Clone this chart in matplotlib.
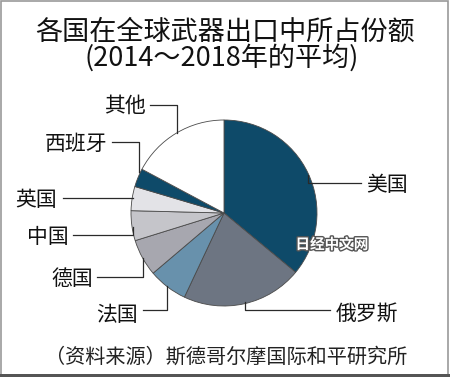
import matplotlib.pyplot as plt
import matplotlib.patheffects as pe
from matplotlib.patches import Rectangle

plt.rcParams['font.family'] = ['Noto Sans CJK SC', 'DejaVu Sans']

W, H = 450, 377

countries = ['美国', '俄罗斯', '法国', '德国', '中国', '英国', '西班牙', '其他']
shares = [36, 21, 6.8, 6.4, 5.2, 4.2, 3.2, 17.2]
colors = ['#0e4a69', '#6d7582', '#6891ac', '#a7a7af', '#c5c5ca', '#e3e3e7', '#0e4a69', '#ffffff']

# label positions and elbow leader lines, in pixels from top-left
label_xy = {
    '美国': (366, 185, 'left'),
    '俄罗斯': (336, 314, 'left'),
    '法国': (138, 315, 'right'),
    '德国': (93, 279, 'right'),
    '中国': (69, 237, 'right'),
    '英国': (57, 200, 'right'),
    '西班牙': (107, 144, 'right'),
    '其他': (146, 106, 'right'),
}
leaders = {
    '美国': [(308, 175), (308, 183), (361, 183)],
    '俄罗斯': [(245, 302), (245, 310), (330, 310)],
    '法国': [(167, 286), (167, 310), (143, 310)],
    '德国': [(143, 258), (143, 277), (97, 277)],
    '中国': [(133, 227), (133, 235), (73, 235)],
    '英国': [(133, 198), (63, 198)],
    '西班牙': [(139, 172), (139, 142), (112, 142)],
    '其他': [(177, 133), (177, 105), (150, 105)],
}


def fy(y):
    return H - y


fig = plt.figure(figsize=(4.5, 3.77), dpi=100)
ax = fig.add_axes([0, 0, 1, 1])

ax.pie(shares, colors=colors, startangle=90, counterclock=False,
       center=(224, fy(213)), radius=93,
       wedgeprops={'edgecolor': '#4a4a4a', 'linewidth': 0.6})

ax.set_xlim(0, W)
ax.set_ylim(0, H)
ax.set_aspect('equal')
ax.axis('off')

for c in countries:
    pts = leaders[c]
    ax.plot([p[0] for p in pts], [fy(p[1]) for p in pts], color='#2a2a2a', lw=0.9)
    x, y, ha = label_xy[c]
    ax.text(x, fy(y), c, ha=ha, va='center', fontsize=15, color='#111111')

ax.text(225, fy(32), '各国在全球武器出口中所占份额', ha='center', va='center', fontsize=19.5, color='#111111')
ax.text(222, fy(58), '(2014～2018年的平均)', ha='center', va='center', fontsize=19.5, color='#111111')
ax.text(226, fy(357), '（资料来源）斯德哥尔摩国际和平研究所', ha='center', va='center', fontsize=14.5, color='#222222')

ax.text(332, fy(244), '日经中文网', ha='center', va='center', fontsize=10.5, fontweight='bold',
        color='white', path_effects=[pe.withStroke(linewidth=2, foreground='#555555')])

# picture frame
ax.add_patch(Rectangle((0.5, 2), W - 2.5, H - 2.5, fill=False, edgecolor='#999999', lw=1.2))
ax.add_patch(Rectangle((0, 0), W, 3.5, color='#555555', lw=0))

fig.savefig('out.png', dpi=100)
